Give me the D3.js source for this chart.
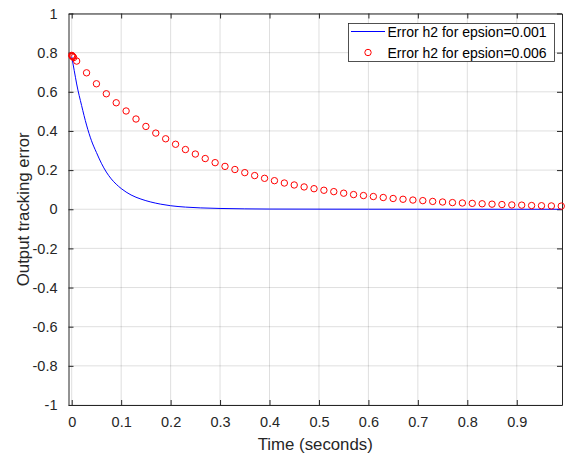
<!DOCTYPE html>
<html>
<head>
<meta charset="utf-8">
<script src="https://cdn.jsdelivr.net/npm/d3@7"></script>
<style>
  html, body { margin: 0; padding: 0; background: #fff; }
  text { font-family: "Liberation Sans", Arial, Helvetica, sans-serif; }
</style>
</head>
<body>
<svg id="chart" width="568" height="455"></svg>
<script>
// ---- data ----
const blueTime = [0, 0.005, 0.01, 0.02, 0.03, 0.04, 0.05, 0.06, 0.07, 0.08, 0.09, 0.10,
  0.12, 0.14, 0.16, 0.18, 0.20, 0.23, 0.26, 0.30, 0.35, 0.40, 0.50, 0.60, 0.70, 0.80, 0.90, 0.99];
const blueError = [0.78, 0.71, 0.64, 0.53, 0.43, 0.35, 0.29, 0.235, 0.19, 0.155, 0.128, 0.106,
  0.073, 0.052, 0.037, 0.026, 0.018, 0.011, 0.007, 0.004, 0.002, 0.001, 0.0005, 0.0002, 0.0001, 0, 0, 0];

const redTime = [0, 0.001, 0.002, 0.004, 0.01, 0.03, 0.05, 0.07, 0.09, 0.11, 0.13, 0.15, 0.17, 0.19,
  0.21, 0.23, 0.25, 0.27, 0.29, 0.31, 0.33, 0.35, 0.37, 0.39, 0.41, 0.43, 0.45, 0.47,
  0.49, 0.51, 0.53, 0.55, 0.57, 0.59, 0.61, 0.63, 0.65, 0.67, 0.69, 0.71, 0.73, 0.75,
  0.77, 0.79, 0.81, 0.83, 0.85, 0.87, 0.89, 0.91, 0.93, 0.95, 0.97, 0.99];
const redError = [0.786, 0.783, 0.780, 0.775, 0.757, 0.697, 0.641, 0.590, 0.544, 0.502, 0.461, 0.423, 0.389, 0.360,
  0.332, 0.305, 0.282, 0.259, 0.238, 0.219, 0.203, 0.187, 0.172, 0.158, 0.146, 0.134, 0.124, 0.114,
  0.105, 0.097, 0.090, 0.082, 0.075, 0.070, 0.065, 0.060, 0.055, 0.051, 0.047, 0.044, 0.040, 0.037,
  0.034, 0.032, 0.030, 0.028, 0.026, 0.024, 0.022, 0.021, 0.019, 0.018, 0.017, 0.016];

const xTicks = [0, 0.1, 0.2, 0.3, 0.4, 0.5, 0.6, 0.7, 0.8, 0.9];
const yTicks = [-1, -0.8, -0.6, -0.4, -0.2, 0, 0.2, 0.4, 0.6, 0.8, 1];
const xDomain = [-0.0065, 0.9915];
const yDomain = [-1, 1];
const seriesNames = ["Error h2 for epsion=0.001", "Error h2 for epsion=0.006"];
const xLabel = "Time (seconds)";
const yLabel = "Output tracking error";

// ---- layout ----
const L = 68.5, R = 562, T = 13.5, B = 405;
const axisColor = "#262626";
const svg = d3.select("#chart");

const x = d3.scaleLinear().domain(xDomain).range([L, R]);
const y = d3.scaleLinear().domain(yDomain).range([B, T]);
const fmt = d => String(d);

// grid
const grid = svg.append("g");
grid.selectAll("line.gx").data(xTicks).join("line")
  .attr("x1", d => x(d)).attr("x2", d => x(d)).attr("y1", T).attr("y2", B)
  .attr("stroke", axisColor).attr("stroke-opacity", 0.15).attr("stroke-width", 1);
grid.selectAll("line.gy").data(yTicks).join("line")
  .attr("x1", L).attr("x2", R).attr("y1", d => y(d)).attr("y2", d => y(d))
  .attr("stroke", axisColor).attr("stroke-opacity", 0.15).attr("stroke-width", 1);

// axes (ticks inward, box on all sides)
const tickLen = 5;
function styleAxis(g) {
  g.select(".domain").attr("stroke", axisColor);
  g.selectAll(".tick line").attr("stroke", axisColor);
  g.selectAll(".tick text").attr("fill", axisColor).style("font-size", "14.5px");
}
const xAxisB = d3.axisBottom(x).tickValues(xTicks).tickFormat(fmt).tickSizeInner(-tickLen).tickSizeOuter(0).tickPadding(12);
svg.append("g").attr("transform", `translate(0,${B})`).call(xAxisB).call(styleAxis);
const xAxisT = d3.axisTop(x).tickValues(xTicks).tickFormat("").tickSizeInner(-tickLen).tickSizeOuter(0);
svg.append("g").attr("transform", `translate(0,${T})`).call(xAxisT).call(styleAxis);
const yAxisL = d3.axisLeft(y).tickValues(yTicks).tickFormat(fmt).tickSizeInner(-tickLen).tickSizeOuter(0).tickPadding(11);
svg.append("g").attr("transform", `translate(${L},0)`).call(yAxisL).call(styleAxis);
const yAxisR = d3.axisRight(y).tickValues(yTicks).tickFormat("").tickSizeInner(-tickLen).tickSizeOuter(0);
svg.append("g").attr("transform", `translate(${R},0)`).call(yAxisR).call(styleAxis);

// clip
svg.append("clipPath").attr("id", "clip").append("rect")
  .attr("x", L).attr("y", T).attr("width", R - L).attr("height", B - T);

// blue line
const blueData = blueTime.map((t, i) => [t, blueError[i]]);
svg.append("path").datum(blueData)
  .attr("clip-path", "url(#clip)")
  .attr("fill", "none").attr("stroke", "#0000ff").attr("stroke-width", 1)
  .attr("d", d3.line().x(d => x(d[0])).y(d => y(d[1])).curve(d3.curveMonotoneX));

// red circles
const redData = redTime.map((t, i) => [t, redError[i]]);
svg.append("g").selectAll("circle").data(redData).join("circle")
  .attr("cx", d => x(d[0])).attr("cy", d => y(d[1])).attr("r", 3.2)
  .attr("fill", "none").attr("stroke", "#ff0000").attr("stroke-width", 1);

// axis labels
svg.append("text").attr("x", (L + R) / 2).attr("y", 450).attr("text-anchor", "middle")
  .attr("fill", axisColor).style("font-size", "16.8px").text(xLabel);
svg.append("text").attr("transform", `translate(29,${(T + B) / 2}) rotate(-90)`).attr("text-anchor", "middle")
  .attr("fill", axisColor).style("font-size", "16.8px").text(yLabel);

// legend
const lg = svg.append("g");
lg.append("rect").attr("x", 348.5).attr("y", 23.5).attr("width", 206).attr("height", 38)
  .attr("fill", "#fff").attr("stroke", axisColor).attr("stroke-width", 0.8);
lg.append("line").attr("x1", 351).attr("x2", 385).attr("y1", 31.5).attr("y2", 31.5)
  .attr("stroke", "#0000ff").attr("stroke-width", 1);
lg.append("circle").attr("cx", 368).attr("cy", 52.5).attr("r", 3.2)
  .attr("fill", "none").attr("stroke", "#ff0000").attr("stroke-width", 1);
lg.selectAll("text").data(seriesNames).join("text")
  .attr("x", 387.5).attr("y", (d, i) => 36.5 + i * 21)
  .attr("fill", "#000").style("font-size", "14px").text(d => d);
</script>
</body>
</html>
